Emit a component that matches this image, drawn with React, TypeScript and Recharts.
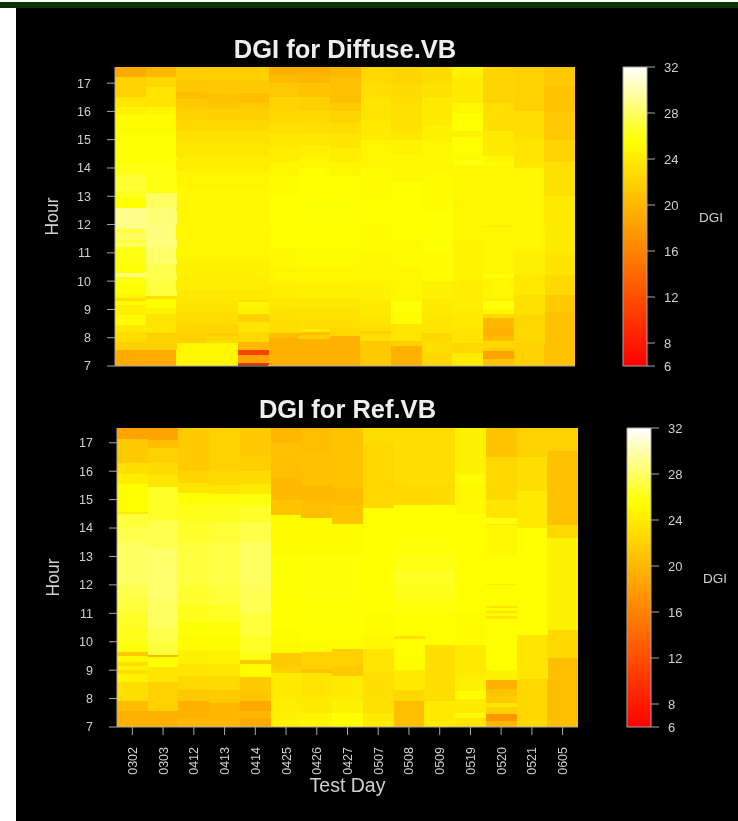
import { BarChart, Bar, Cell, XAxis, YAxis } from 'recharts';

// each column lists [top of the band in hours, DGI] from 7h upwards
const days = ['0302', '0303', '0412', '0413', '0414', '0425', '0426', '0427', '0507', '0508', '0509', '0519', '0520', '0521', '0605'];
const hourTicks = [7, 8, 9, 10, 11, 12, 13, 14, 15, 16, 17];
const legendTicks = [6, 8, 12, 16, 20, 24, 28, 32];

const diffuse0302 = [[7.55, 19], [7.85, 22], [8.2, 23], [8.45, 23.8], [8.8, 25.2], [9.15, 24.3], [9.3, 25.2], [9.42, 23], [9.55, 25], [9.95, 25.5], [10.15, 26], [10.3, 28.5], [10.65, 25.7], [11.2, 26], [11.35, 28], [11.45, 27], [11.7, 28], [11.85, 27], [12.6, 29], [12.95, 25.5], [13.2, 26.3], [13.75, 26.8], [14.15, 26], [15.2, 25.6], [15.9, 25.3], [16.15, 24.5], [16.5, 23.5], [17.2, 22], [17.57, 19]];
const diffuse0303 = [[7.55, 19], [8.18, 22], [8.83, 23.5], [9.06, 24.5], [9.36, 25.5], [9.48, 23], [10, 27], [10.6, 27.5], [11.2, 28.2], [12, 28.7], [12.6, 28.5], [13.13, 28], [14.2, 25.9], [15.2, 25.6], [15.9, 25.3], [16.14, 24.8], [16.85, 23.5], [17.2, 22.5], [17.57, 20]];
const diffuse0412 = [[7.83, 24.8], [8.18, 22], [8.5, 22.4], [8.9, 22.9], [9.3, 23.4], [9.7, 23.8], [10.2, 24.2], [10.8, 24.5], [11.5, 24.8], [12.5, 25], [13.3, 25], [13.9, 24.7], [14.4, 24.2], [14.9, 23.7], [15.3, 23.1], [15.7, 22.5], [16.1, 22], [16.45, 21.5], [16.68, 20.5], [17.1, 21.2], [17.57, 21.7]];
const diffuse0413 = [[7.83, 24.8], [8.06, 22.5], [8.18, 21.5], [8.5, 22.4], [8.9, 22.9], [9.3, 23.4], [9.7, 23.8], [10.2, 24.2], [10.8, 24.5], [11.5, 24.8], [12.5, 25], [13.3, 25], [13.9, 24.7], [14.4, 24.2], [14.9, 23.7], [15.3, 23.1], [15.7, 22.5], [16.1, 21.9], [16.3, 21.2], [16.6, 20.8], [17.1, 21.4], [17.57, 21.8]];
const diffuse0414 = [[7.04, 0], [7.1, 10], [7.4, 18.5], [7.58, 11], [7.85, 20], [8.2, 22.5], [8.55, 23.5], [8.85, 22], [9.1, 24.5], [9.25, 25], [9.32, 23], [9.7, 23.8], [10.2, 24.2], [10.8, 24.5], [11.5, 24.8], [12.5, 25], [13.3, 25], [13.9, 24.7], [14.4, 24.2], [14.9, 23.7], [15.3, 23.1], [15.7, 22.5], [16.1, 21.9], [16.3, 21.3], [16.65, 20.6], [17.1, 21.5], [17.57, 21.8]];
const diffuse0425 = [[8, 19.5], [8.18, 20.5], [8.3, 23], [8.6, 22.8], [9, 23.2], [9.4, 23.7], [9.9, 24.2], [10.5, 24.7], [11.2, 25.1], [12, 25.4], [13, 25.5], [13.7, 25.3], [14.2, 24.8], [14.7, 24.2], [15.2, 23.7], [15.6, 23.2], [16, 22.7], [16.5, 22.2], [17, 21.3], [17.3, 20.2], [17.57, 19.5]];
const diffuse0426 = [[7.95, 19.5], [8.1, 22], [8.2, 20.5], [8.3, 24], [8.6, 23], [9, 23.3], [9.4, 23.8], [9.9, 24.3], [10.5, 24.8], [11.2, 25.2], [12, 25.5], [13, 25.6], [14, 25.5], [14.4, 24.9], [14.8, 24.3], [15.2, 23.7], [15.6, 23.1], [16, 22.6], [16.5, 22], [17, 21], [17.3, 20], [17.57, 19.5]];
const diffuse0427 = [[8.06, 19.5], [8.35, 22.5], [8.6, 23], [9, 23.3], [9.4, 23.8], [9.9, 24.3], [10.5, 24.8], [11.2, 25.2], [12, 25.5], [13, 25.6], [13.7, 25.4], [14.2, 24.8], [14.7, 24.2], [15.2, 23.6], [15.6, 23], [16, 22.3], [16.3, 21.4], [17.2, 20.7], [17.57, 20]];
const diffuse0507 = [[7.88, 21.5], [8.12, 23], [8.25, 22], [8.45, 23], [8.75, 23.5], [9.3, 24], [10, 24.5], [11, 25], [12, 25.3], [13, 25.4], [14, 25.2], [15, 24.7], [15.7, 24], [16.5, 23.5], [17, 23], [17.57, 22.5]];
const diffuse0508 = [[7.7, 19.5], [7.88, 22], [8.47, 23.5], [8.9, 25.3], [9.3, 25.7], [9.8, 24.8], [10.5, 24.8], [11.5, 25.2], [12.5, 25.5], [13.5, 25.5], [14.5, 25], [15, 24.6], [15.3, 23.7], [16.3, 23.2], [17, 22.8], [17.57, 22.2]];
const diffuse0509 = [[7.47, 22.5], [7.88, 23], [8.18, 22.5], [8.8, 23.5], [9.4, 24], [10, 24.5], [11, 25.2], [12.5, 25.6], [13.8, 25.3], [14.9, 25], [15.5, 24.5], [16.5, 24], [17, 23.2], [17.57, 22.8]];
const diffuse0519 = [[7.47, 24], [7.8, 22.5], [8.3, 23.5], [9, 23.9], [10, 24.2], [11.5, 24.6], [13, 24.8], [14.1, 25], [14.3, 25.8], [14.5, 25.2], [15.1, 25.5], [15.3, 24.5], [15.95, 25.5], [16.3, 24.8], [17.2, 24], [17.57, 24.5]];
const diffuse0520 = [[7.24, 21], [7.53, 18.5], [7.65, 21.5], [7.88, 22.5], [8.06, 20.3], [8.36, 19.5], [8.71, 20], [8.83, 22.5], [9, 24.8], [9.3, 25.7], [9.42, 24.3], [10.1, 24.7], [10.25, 25.7], [11.9, 24.8], [11.96, 23.5], [14.08, 24.8], [14.26, 25.3], [14.43, 25], [15.3, 24], [16.3, 23], [17.57, 22.3]];
const diffuse0521 = [[7.8, 22], [8.8, 22.5], [9.5, 23.2], [10.2, 23.8], [11, 24.3], [14, 24.7], [14.1, 23.8], [15, 23.5], [16, 23], [17.57, 22]];
const diffuse0605 = [[8.9, 20.8], [9.5, 21.5], [10.2, 22.6], [11, 23.4], [12, 24], [13, 23.9], [14.2, 23.2], [15, 22.2], [16, 21.3], [16.9, 21], [17.57, 21.5]];

const ref0302 = [[7.55, 19.5], [7.9, 20.5], [8.6, 23], [8.85, 24.5], [9, 23], [9.15, 24.5], [9.3, 23.2], [9.5, 25], [9.65, 21.5], [10, 25.8], [10.5, 26.2], [11, 26.5], [11.5, 27], [12, 27.5], [12.7, 28], [13.5, 28], [14, 27.5], [14.5, 27], [14.55, 24], [15.55, 25.5], [15.9, 24.2], [16.3, 23], [17.15, 21.5], [17.52, 18.5]];
const ref0303 = [[7.55, 19.5], [8.6, 22], [9.1, 23.5], [9.45, 25.5], [9.52, 20], [10, 27], [10.5, 27.5], [11.5, 28], [12.5, 28.3], [13.3, 28.2], [14.3, 27.5], [15.45, 26.5], [15.85, 23.5], [16.3, 22.8], [16.8, 22], [17.1, 20.5], [17.52, 18.5]];
const ref0412 = [[7.3, 20], [7.9, 19.5], [8.3, 21.3], [8.8, 22.5], [9.2, 23.5], [9.7, 24.4], [10.2, 25.2], [10.7, 25.6], [11.3, 26.2], [12, 26.7], [12.7, 27], [13.5, 27], [14.2, 26.6], [14.8, 26.2], [15.25, 25.6], [15.6, 23.5], [16, 22.3], [16.5, 21.5], [17.52, 21.5]];
const ref0413 = [[7.3, 20], [7.85, 20], [8.3, 21.5], [8.8, 22.7], [9.2, 23.7], [9.7, 24.6], [10.2, 25.3], [10.7, 25.7], [11.3, 26.4], [12, 27], [12.7, 27.3], [13.5, 27.3], [14.2, 26.9], [14.8, 26.3], [15.2, 25.7], [15.5, 23.5], [16, 22.5], [16.5, 22], [17.52, 22]];
const ref0414 = [[7.3, 19], [7.55, 20], [7.9, 19], [8.2, 21], [8.75, 21.5], [9.2, 25.3], [9.37, 21.5], [9.6, 26], [10.2, 26.5], [11, 27], [12, 27.7], [12.8, 28], [13.5, 28], [14.2, 27.4], [14.8, 26.6], [15.2, 25.8], [15.55, 24], [16, 22.8], [16.5, 21.8], [17.52, 21.5]];
const ref0425 = [[7.55, 24.5], [8, 24.2], [8.9, 24], [9.1, 22], [9.6, 21.5], [10, 25], [10.5, 25.3], [11.5, 25.5], [13, 25.6], [14.45, 25.3], [15, 21], [15.75, 20.2], [16.3, 20.5], [17, 20.7], [17.52, 20]];
const ref0426 = [[7.5, 24.7], [8.1, 24], [8.9, 23.5], [9.05, 21], [9.65, 22], [10, 25.2], [10.5, 25.5], [11.5, 25.6], [13, 25.7], [14.35, 25.3], [15, 20.6], [15.5, 20.2], [16.6, 20.8], [17.52, 20.5]];
const ref0427 = [[7.5, 25.5], [8, 24.5], [8.8, 24], [9.15, 21.5], [9.75, 22], [10.1, 25.2], [10.5, 25.5], [11.5, 25.6], [13, 25.7], [14.15, 25.3], [14.8, 21], [15.4, 20.3], [16.7, 21], [17.52, 21]];
const ref0507 = [[7.5, 24], [8.1, 23.2], [8.9, 23], [9.75, 23.5], [10.2, 25], [11, 25.3], [13, 25.5], [14.7, 25.5], [15.6, 22.5], [17, 22.5], [17.52, 23]];
const ref0508 = [[7.9, 20.5], [8.3, 22.5], [9, 24], [9.5, 25.3], [10.1, 25.5], [10.2, 23], [11, 25.5], [11.5, 25.8], [12, 26.2], [12.5, 26.4], [13, 26], [13.7, 25.7], [14.8, 25.5], [15.5, 22.5], [17.52, 23]];
const ref0509 = [[7.9, 24], [9.9, 23], [11, 25.5], [11.5, 25.8], [12, 26.2], [12.5, 26.4], [13, 26], [13.7, 25.7], [14.8, 25.5], [15.5, 22.8], [17.52, 23]];
const ref0519 = [[7.3, 23.5], [7.5, 25], [8, 24], [8.25, 25.5], [8.8, 24.5], [9.9, 24], [11, 25.3], [14.5, 25.5], [14.6, 25], [15.5, 25], [15.9, 25.3], [17.52, 24.5]];
const ref0520 = [[7.2, 20], [7.45, 17.5], [7.7, 22], [7.85, 23.5], [8.1, 21.5], [8.35, 21], [8.65, 19.5], [9, 24.5], [9.9, 25.5], [10.8, 25.6], [10.9, 23.5], [11, 25.5], [11.08, 23.5], [11.2, 25.5], [11.25, 23.5], [12, 25.5], [12.02, 24], [13, 25.5], [13.02, 23.5], [14.1, 25], [14.15, 23.5], [14.35, 25.8], [15, 23.5], [16.5, 22.5], [17.52, 21]];
const ref0521 = [[8.7, 22.5], [10.25, 23.5], [14, 25.5], [15.3, 24], [16.5, 23], [17.52, 22]];
const ref0605 = [[9.43, 20.5], [10.4, 22.5], [13.65, 24.5], [14.1, 22.5], [16.7, 20.7], [17.52, 22]];

const diffuseColumns = [diffuse0302, diffuse0303, diffuse0412, diffuse0413, diffuse0414, diffuse0425, diffuse0426, diffuse0427, diffuse0507, diffuse0508, diffuse0509, diffuse0519, diffuse0520, diffuse0521, diffuse0605];
const refColumns = [ref0302, ref0303, ref0412, ref0413, ref0414, ref0425, ref0426, ref0427, ref0507, ref0508, ref0509, ref0519, ref0520, ref0521, ref0605];

const GREY = '#a8a8a8';
const TEXT = '#d0d0d0';
const FONT = '"Liberation Sans", Arial, sans-serif';

// heat.colors: red to yellow over the first 3/4 of 6..32, then yellow to white
function heatColor(dgi: number): string {
  if (dgi < 6) return '#1a0a00';
  if (dgi <= 25.5) return `rgb(255,${Math.round(((dgi - 6) / 19.5) * 255)},0)`;
  return `rgb(255,255,${Math.round(((dgi - 25.5) / 6.5) * 255)})`;
}

function VerticalTick({ x, y, payload }: any) {
  return (
    <text
      transform={`translate(${x + 4.5},${y + 10}) rotate(-90)`}
      textAnchor="end"
      fill={TEXT}
      fontSize={12.5}
      fontFamily={FONT}
    >
      {payload.value}
    </text>
  );
}

function HeatPanel({ columns, top, left, plotLeft, plotRight, plotTop, plotBottom, topHour, labels }: any) {
  const height = plotBottom + (labels ? 94 : 30);
  const rows = days.map((day, d) => {
    const row: any = { day };
    columns[d].forEach((seg: number[], i: number) => {
      row[`s${i}`] = seg[0] - (i === 0 ? 7 : columns[d][i - 1][0]);
    });
    return row;
  });
  const bandCount = Math.max(...columns.map((c: number[][]) => c.length));
  const bands = Array.from({ length: bandCount }, (_, i) => i);
  const axisHeight = labels ? 60 : 12;

  return (
    <div style={{ position: 'absolute', left, top }}>
      <BarChart
        width={plotRight + 20}
        height={height}
        data={rows}
        barCategoryGap={0}
        barGap={0}
        margin={{ top: plotTop, right: 20, bottom: height - plotBottom - axisHeight, left: 0 }}
      >
        <XAxis
          dataKey="day"
          interval={0}
          height={axisHeight}
          stroke={GREY}
          tickSize={8}
          tick={labels ? <VerticalTick /> : false}
          label={labels ? { value: 'Test Day', position: 'insideBottom', offset: -5, fill: TEXT, fontSize: 19.5, fontFamily: FONT } : undefined}
        />
        <XAxis xAxisId="top" orientation="top" dataKey="day" height={0} stroke={GREY} tick={false} tickLine={false} />
        <YAxis
          type="number"
          width={plotLeft}
          domain={[0, topHour - 7]}
          ticks={hourTicks.map((h) => h - 7)}
          tickFormatter={(v: number) => String(v + 7)}
          stroke={GREY}
          tickSize={8}
          tickMargin={16}
          tick={{ fill: TEXT, fontSize: 12.5, fontFamily: FONT }}
        />
        <YAxis yAxisId="right" orientation="right" type="number" width={0} domain={[0, topHour - 7]} stroke={GREY} tick={false} tickLine={false} />
        {bands.map((b) => (
          <Bar key={b} dataKey={`s${b}`} stackId="dgi" isAnimationActive={false}>
            {days.map((day, d) => (
              <Cell
                key={day}
                fill={columns[d][b] ? heatColor(columns[d][b][1]) : 'none'}
                shapeRendering="crispEdges"
              />
            ))}
          </Bar>
        ))}
      </BarChart>
    </div>
  );
}

function ColorKey({ id, left, top, barLeft, barRight, plotTop, plotBottom }: any) {
  return (
    <div style={{ position: 'absolute', left, top }}>
      <BarChart
        width={barRight + 40}
        height={plotBottom + 10}
        data={[{ name: 'DGI', range: [6, 32] }]}
        barCategoryGap={0}
        margin={{ top: plotTop, right: 0, bottom: 10, left: barLeft }}
      >
        <defs>
          <linearGradient id={id} x1="0" y1="1" x2="0" y2="0">
            <stop offset="0" stopColor="#ff0000" />
            <stop offset="0.75" stopColor="#ffff00" />
            <stop offset="1" stopColor="#ffffff" />
          </linearGradient>
        </defs>
        <XAxis dataKey="name" hide />
        <YAxis
          orientation="right"
          type="number"
          width={40}
          domain={[6, 32]}
          ticks={legendTicks}
          interval={0}
          stroke={GREY}
          axisLine={false}
          tickSize={8}
          tickMargin={9}
          tick={{ fill: TEXT, fontSize: 13, fontFamily: FONT }}
        />
        <Bar dataKey="range" fill={`url(#${id})`} stroke={GREY} strokeWidth={1} isAnimationActive={false} />
      </BarChart>
    </div>
  );
}

function Caption({ x, y, size, weight, color, rotate, children }: any) {
  return (
    <div
      style={{
        position: 'absolute',
        left: x - 200,
        top: y - size,
        width: 400,
        height: size * 2,
        lineHeight: `${size * 2}px`,
        textAlign: 'center',
        fontFamily: FONT,
        fontSize: size,
        fontWeight: weight,
        color,
        transform: rotate ? `rotate(${rotate}deg)` : undefined,
      }}
    >
      {children}
    </div>
  );
}

export default function App() {
  return (
    <div style={{ position: 'absolute', left: 0, top: 0, width: 738, height: 821, background: '#fff', overflow: 'hidden', filter: 'blur(0.6px)' }}>
      <div style={{ position: 'absolute', left: 0, top: 2, width: 738, height: 6, background: '#0a3300' }} />
      <div style={{ position: 'absolute', left: 16, top: 8, width: 722, height: 813, background: '#000' }} />

      <Caption x={345} y={49} size={25.5} weight={700} color="#eeeeee">DGI for Diffuse.VB</Caption>
      <HeatPanel columns={diffuseColumns} left={0} top={0} plotLeft={115} plotRight={575} plotTop={67} plotBottom={366} topHour={17.57} labels={false} />
      <ColorKey id="keyDiffuse" left={0} top={0} barLeft={623} barRight={647} plotTop={67} plotBottom={366} />
      <Caption x={711} y={217} size={13.5} weight={400} color={TEXT}>DGI</Caption>
      <Caption x={52} y={216} size={17.5} weight={400} color={TEXT} rotate={-90}>Hour</Caption>

      <Caption x={347.5} y={409} size={25.5} weight={700} color="#eeeeee">DGI for Ref.VB</Caption>
      <HeatPanel columns={refColumns} left={0} top={395} plotLeft={117} plotRight={578} plotTop={33} plotBottom={332} topHour={17.52} labels />
      <ColorKey id="keyRef" left={0} top={395} barLeft={627} barRight={651} plotTop={33} plotBottom={332} />
      <Caption x={715} y={578} size={13.5} weight={400} color={TEXT}>DGI</Caption>
      <Caption x={53} y={577} size={17.5} weight={400} color={TEXT} rotate={-90}>Hour</Caption>
    </div>
  );
}
